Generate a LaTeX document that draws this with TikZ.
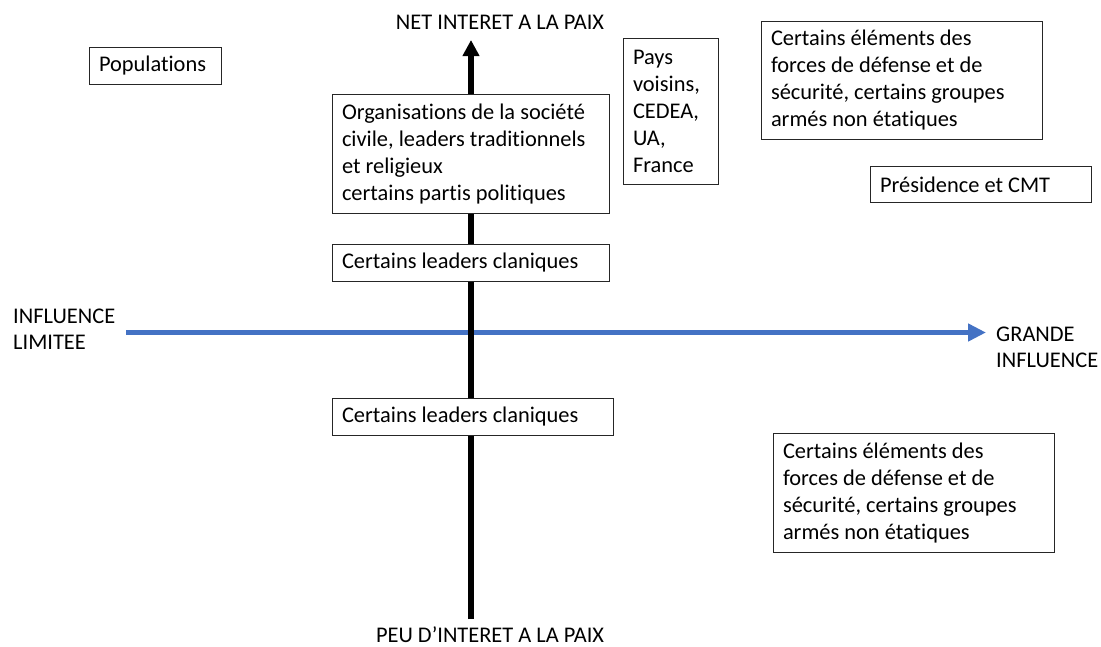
\documentclass[tikz,border=0pt]{standalone}
\usepackage{fontspec}
\setmainfont{Carlito}[Ligatures=NoCommon]
\usetikzlibrary{arrows.meta}
\definecolor{axeblue}{HTML}{4472C4}
\definecolor{boxline}{HTML}{262626}

\begin{document}
\begin{tikzpicture}[x=1pt, y=-1pt,
    txt/.style={font=\fontsize{22.4}{26}\selectfont, inner sep=0pt},
    acteur/.style={font=\fontsize{22.4}{27}\selectfont, draw=boxline, line width=1pt,
                   fill=white, anchor=north west, align=flush left,
                   inner xsep=9.5pt, inner ysep=0pt}]
  \useasboundingbox (0,0) rectangle (1101,646);
  % axes (influence left-right, interest bottom-top)
  \coordinate (faible) at (126,332.5);
  \coordinate (forte)  at (986,332.5);
  \coordinate (peu)    at (471,619);
  \coordinate (net)    at (471,40);
  \draw[axeblue, line width=5.3pt, -{Triangle[length=18pt,width=17pt]}] (faible) -- (forte);
  \draw[line width=5.5pt, -{Triangle[length=16pt,width=16pt]}] (peu) -- (net);
  \node[txt, anchor=base] (nettxt) at (500,29.5){NET INTERET A LA PAIX};
  \node[txt, anchor=base] (peutxt) at (490,642.5){PEU D’INTERET A LA PAIX};
  \node[txt, align=left, anchor=north west] (limitee) at (13,308.5){INFLUENCE\\LIMITEE};
  \node[txt, align=left, anchor=north west] (grande) at (996,327){GRANDE\\INFLUENCE};
  % actors
  \node[acteur, text width=113pt, minimum height=37pt] (populations) at (89,47){Populations};
  \node[acteur, text width=258pt, minimum height=119pt] (societe) at (332,94)
       {Organisations de la société\\civile, leaders traditionnels\\et religieux\\certains partis politiques};
  \node[acteur, text width=258pt, minimum height=37pt] (clans) at (332,244){Certains leaders claniques};
  \node[acteur, text width=262pt, minimum height=37pt] (clansbas) at (332,398){Certains leaders claniques};
  \node[acteur, text width=76pt, minimum height=146pt] (voisins) at (623,38)
       {Pays\\voisins,\\CEDEA,\\UA,\\France};
  \node[acteur, text width=262pt, minimum height=118pt] (fds) at (761,21)
       {Certains éléments des\\forces de défense et de\\sécurité, certains groupes\\armés non étatiques};
  \node[acteur, text width=202pt, minimum height=36pt] (presidence) at (870,166){Présidence et CMT};
  \node[acteur, text width=262pt, minimum height=119pt] (fdsbas) at (773,433)
       {Certains éléments des\\forces de défense et de\\sécurité, certains groupes\\armés non étatiques};
\end{tikzpicture}
\end{document}
